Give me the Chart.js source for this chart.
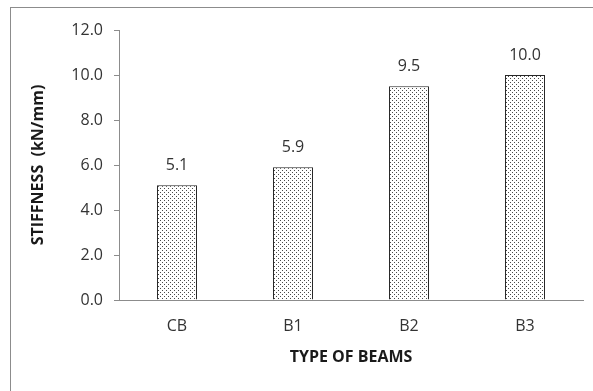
<!DOCTYPE html>
<html>
<head>
<meta charset="UTF-8">
<script src="https://cdn.jsdelivr.net/npm/chart.js@4.4.0/dist/chart.umd.min.js"></script>
<style>
	body { margin: 0; background: #fff; }
	#frame { position: absolute; left: 10px; top: 7px; width: 600px; height: 400px; border: 1px solid #8c8c8c; }
	#wrap { position: absolute; left: 0; top: 0; width: 593px; height: 391px; }
</style>
</head>
<body>
<div id="frame"></div>
<div id="wrap"><canvas id="c" width="593" height="391"></canvas></div>
<script>
// data
var beams = ['CB', 'B1', 'B2', 'B3'];
var stiffness = [5.1, 5.9, 9.5, 10.0];
var yTicks = [0, 2, 4, 6, 8, 10, 12];

var FONT = "'Open Sans', sans-serif";

// dotted fill like the excel pattern
function dots() {
	var p = document.createElement('canvas');
	p.width = 4; p.height = 4;
	var g = p.getContext('2d');
	g.fillStyle = '#fff';
	g.fillRect(0, 0, 4, 4);
	g.fillStyle = '#4a4a4a';
	g.fillRect(0, 0, 1, 1);
	g.fillRect(2, 2, 1, 1);
	return g.createPattern(p, 'repeat');
}

var valueLabels = {
	id: 'valueLabels',
	afterDatasetsDraw: function(chart) {
		var ctx = chart.ctx;
		var meta = chart.getDatasetMeta(0);
		ctx.save();
		ctx.font = '16px ' + FONT;
		ctx.fillStyle = '#333';
		ctx.textAlign = 'center';
		ctx.textBaseline = 'middle';
		meta.data.forEach(function(bar, i) {
			ctx.fillText(stiffness[i].toFixed(1), bar.x, bar.y - 20);
		});
		ctx.restore();
	}
};

var ctx = document.getElementById('c').getContext('2d');
new Chart(ctx, {
	type: 'bar',
	data: {
		labels: beams,
		datasets: [{
			data: stiffness,
			backgroundColor: dots(),
			borderColor: '#262626',
			borderWidth: 1,
			barPercentage: 0.69,
			categoryPercentage: 0.5
		}]
	},
	options: {
		responsive: false,
		animation: false,
		events: [],
		layout: { padding: { left: 25, top: 30, right: 10, bottom: 20 } },
		plugins: { legend: { display: false }, tooltip: { enabled: false } },
		scales: {
			x: {
				grid: { display: false },
				border: { color: '#8c8c8c' },
				ticks: { color: '#333', font: { family: FONT, size: 16 }, padding: 9 },
				title: { display: true, text: 'TYPE OF BEAMS', color: '#1a1a1a', font: { family: FONT, size: 16, weight: 'bold' }, padding: { top: 3 } },
				afterFit: function(s) { s.height = 71; }
			},
			y: {
				min: 0, max: 12,
				afterBuildTicks: function(s) { s.ticks = yTicks.map(function(v) { return { value: v }; }); },
				grid: { drawOnChartArea: false, color: '#8c8c8c', tickLength: 5 },
				border: { color: '#8c8c8c' },
				ticks: { color: '#333', font: { family: FONT, size: 16 }, padding: 11,
					callback: function(v) { return v.toFixed(1); } },
				title: { display: true, text: 'STIFFNESS  (kN/mm)', color: '#1a1a1a', font: { family: FONT, size: 16, weight: 'bold' } },
				afterFit: function(s) { s.width = 94; }
			}
		}
	},
	plugins: [valueLabels]
});
</script>
</body>
</html>
